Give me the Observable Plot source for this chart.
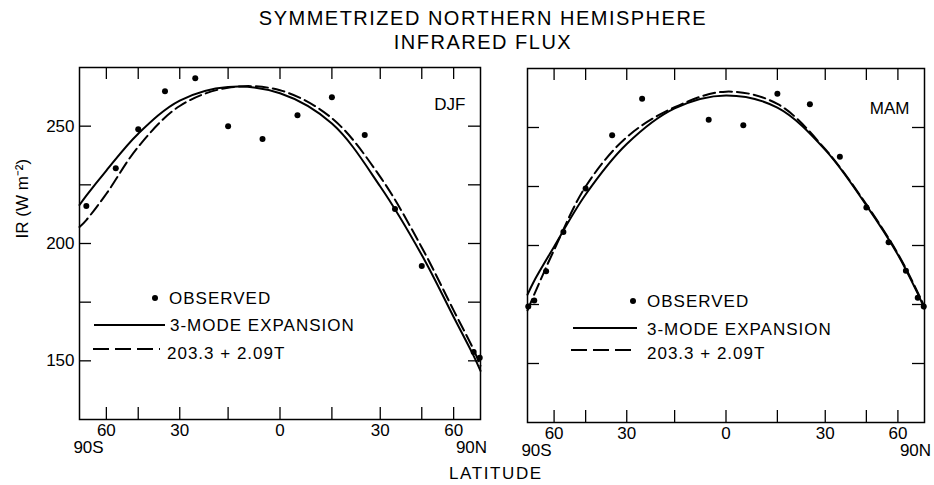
<!DOCTYPE html>
<html>
<head>
<meta charset="utf-8">
<script src="https://cdn.jsdelivr.net/npm/d3@7"></script>
<script src="https://cdn.jsdelivr.net/npm/@observablehq/plot@0.6"></script>
<style>
  html, body { margin: 0; padding: 0; background: #fff; }
  #wrap { position: relative; width: 934px; height: 485px; overflow: hidden; font-family: "Liberation Sans", Arial, sans-serif; color: #000; }
  .abs { position: absolute; white-space: nowrap; }
  .title { left: 0; width: 966px; text-align: center; font-size: 20px; letter-spacing: 1.5px; line-height: 24px; }
  .lg { font-size: 17px; letter-spacing: 1px; line-height: 20px; }
</style>
</head>
<body>
<div id="wrap">
  <div class="abs title" style="top:6px">SYMMETRIZED NORTHERN HEMISPHERE</div>
  <div class="abs title" style="top:30px">INFRARED FLUX</div>
  <div id="p1" class="abs" style="left:0;top:50px"></div>
  <div id="p2" class="abs" style="left:500px;top:50px"></div>
  <div id="legends"></div>
  <div class="abs lg" style="left:449px;top:464px;letter-spacing:1.6px">LATITUDE</div>
</div>
<script>
// ---- data ----
const curveLat = [-90, -75, -60, -45, -30, -15, 0, 15, 30, 45, 60, 75, 90];
const djfMode3 = [216.4, 220.4, 231.1, 246.8, 260.9, 266.7, 264.0, 251.1, 224.3, 195.1, 168.7, 152.1, 145.7];
const djfLinear = [207.0, 210.0, 221.2, 241.2, 258.6, 266.4, 265.3, 253.4, 228.4, 198.3, 171.5, 154.7, 147.9];
const mamMode3 = [179.2, 185.1, 199.5, 221.6, 243.0, 258.1, 263.6, 258.4, 240.5, 217.0, 196.1, 179.6, 173.2];
const mamLinear = [172.5, 179.3, 198.1, 225.0, 245.9, 258.6, 265.2, 260.0, 240.8, 217.4, 196.5, 180.1, 174.0];

const djfObsLat = [-75, -55, -45, -35, -25, -15, -5, 5, 15, 25, 35, 45, 75, 85];
const djfObs = [216.0, 232.1, 248.7, 264.9, 270.4, 250.0, 244.5, 254.7, 262.3, 246.2, 214.7, 190.4, 153.8, 151.3];
const mamObsLat = [-85, -75, -65, -55, -45, -35, -25, -5, 5, 15, 25, 35, 45, 55, 65, 75, 85];
const mamObs = [174.2, 176.7, 189.1, 205.7, 224.1, 246.7, 262.2, 253.3, 251.0, 264.3, 259.9, 237.6, 216.1, 201.4, 189.3, 177.9, 174.2];

const xTickLat = [-60, -45, -30, -15, 0, 15, 30, 45, 60];
const xLabelLat = [-60, -30, 0, 30, 60];
const xLabels = ["60", "30", "0", "30", "60"];
const yTicks = [150, 175, 200, 225, 250];
const yLabelTicks = [150, 200, 250];
const yLabels = ["150", "200", "250"];
const legendTexts = ["OBSERVED", "3-MODE EXPANSION", "203.3 + 2.09T"];
const seasons = ["DJF", "MAM"];

// ---- helpers ----
const rad = Math.PI / 180;
const sx = lat => Math.sin(lat * rad);
const toRows = (lats, vals) => lats.map((lat, i) => ({lat, ir: vals[i]}));

function panel({name, obs, mode3, linear, width, height, ml, mr, mt, mb, yAxis, poleDy}) {
  const pw = width - ml - mr, ph = height - mt - mb;
  const marks = [
    Plot.frame({stroke: "black", strokeWidth: 1.5}),
    Plot.tickX(xTickLat, {x: d => sx(d), insetTop: ph - 12, stroke: "black", strokeWidth: 1.3}),
    Plot.tickX(xTickLat, {x: d => sx(d), insetBottom: ph - 12, stroke: "black", strokeWidth: 1.3}),
    Plot.tickY(yTicks, {y: d => d, insetRight: pw - 12, stroke: "black", strokeWidth: 1.3}),
    Plot.tickY(yTicks, {y: d => d, insetLeft: pw - 12, stroke: "black", strokeWidth: 1.3}),
    Plot.axisX(xLabelLat.map(sx), {tickSize: 0, tickPadding: 4, label: null, tickFormat: d => xLabels[xLabelLat.indexOf(Math.round(Math.asin(d) / rad))], fontSize: 17}),
    Plot.text(["90S"], {x: () => -1, frameAnchor: "bottom", dy: poleDy, dx: 9, fontSize: 17}),
    Plot.text(["90N"], {x: () => 1, frameAnchor: "bottom", dy: poleDy, dx: -9, fontSize: 17}),
    Plot.text([name], {frameAnchor: "top-right", textAnchor: "end", dx: -15, dy: name === "DJF" ? 30 : 33, fontSize: 17, letterSpacing: 1}),
    Plot.line(toRows(curveLat, mode3), {x: d => sx(d.lat), y: "ir", curve: "catmull-rom", stroke: "black", strokeWidth: 2}),
    Plot.line(toRows(curveLat, linear), {x: d => sx(d.lat), y: "ir", curve: "catmull-rom", stroke: "black", strokeWidth: 2, strokeDasharray: "12,5"}),
    Plot.dot(obs, {x: d => sx(d.lat), y: "ir", r: 3, fill: "black", stroke: "none"})
  ];
  if (yAxis) {
    marks.push(Plot.axisY(yLabelTicks, {tickSize: 0, tickPadding: 5, label: null, tickFormat: d => yLabels[yLabelTicks.indexOf(d)], fontSize: 17}));
    marks.push(Plot.text(["IR (W m\u207B\u00B2)"], {frameAnchor: "left", rotate: -90, dx: -57, dy: -5, fontSize: 17, letterSpacing: 1}));
  }
  return Plot.plot({
    width, height,
    marginLeft: ml, marginRight: mr, marginTop: mt, marginBottom: mb,
    style: {fontFamily: "'Liberation Sans', Arial, sans-serif", fontSize: "17px", color: "black", background: "transparent", overflow: "visible"},
    x: {domain: [-1, 1], axis: null, label: null},
    y: {domain: [125, 275], axis: null, label: null},
    marks
  });
}

document.getElementById("p1").append(panel({
  name: seasons[0], obs: toRows(djfObsLat, djfObs), mode3: djfMode3, linear: djfLinear,
  width: 500, height: 435, ml: 79, mr: 20, mt: 17, mb: 66, yAxis: true, poleDy: 33
}));
document.getElementById("p2").append(panel({
  name: seasons[1], obs: toRows(mamObsLat, mamObs), mode3: mamMode3, linear: mamLinear,
  width: 434, height: 435, ml: 27, mr: 10, mt: 18, mb: 63, yAxis: false, poleDy: 33
}));

// ---- legends (layout overlay) ----
function legend(spec) {
  const ns = "http://www.w3.org/2000/svg";
  const box = document.getElementById("legends");
  const svg = document.createElementNS(ns, "svg");
  svg.setAttribute("width", 934); svg.setAttribute("height", 485);
  svg.style.position = "absolute"; svg.style.left = "0"; svg.style.top = "0";
  const c = document.createElementNS(ns, "circle");
  c.setAttribute("cx", spec.dot[0]); c.setAttribute("cy", spec.dot[1]); c.setAttribute("r", 3);
  svg.append(c);
  const l1 = document.createElementNS(ns, "line");
  l1.setAttribute("x1", spec.solid[0]); l1.setAttribute("x2", spec.solid[1]);
  l1.setAttribute("y1", spec.solid[2]); l1.setAttribute("y2", spec.solid[2]);
  l1.setAttribute("stroke", "black"); l1.setAttribute("stroke-width", 2);
  svg.append(l1);
  const l2 = document.createElementNS(ns, "line");
  l2.setAttribute("x1", spec.dash[0]); l2.setAttribute("x2", spec.dash[1]);
  l2.setAttribute("y1", spec.dash[2]); l2.setAttribute("y2", spec.dash[2]);
  l2.setAttribute("stroke", "black"); l2.setAttribute("stroke-width", 2);
  l2.setAttribute("stroke-dasharray", "16,6");
  svg.append(l2);
  spec.texts.forEach(([x, y], i) => {
    const t = document.createElementNS(ns, "text");
    t.setAttribute("x", x); t.setAttribute("y", y);
    t.setAttribute("dominant-baseline", "central");
    t.setAttribute("font-family", "'Liberation Sans', Arial, sans-serif");
    t.setAttribute("font-size", 17); t.setAttribute("letter-spacing", 1);
    t.textContent = legendTexts[i];
    svg.append(t);
  });
  box.append(svg);
}
legend({dot: [155, 298], solid: [94, 165, 325], dash: [93, 160, 349], texts: [[169, 298], [170, 325], [167, 353]]});
legend({dot: [633, 301], solid: [573, 637, 328], dash: [571, 637, 350], texts: [[647, 301], [647, 329], [647, 353]]});
</script>
</body>
</html>
